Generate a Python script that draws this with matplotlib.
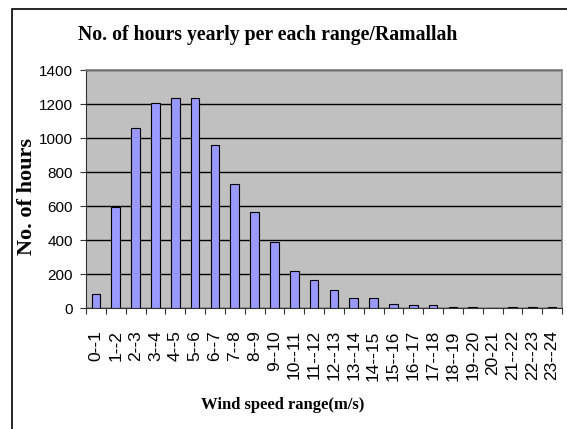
import matplotlib.pyplot as plt
import numpy as np
from matplotlib.patches import Rectangle

ranges = ["0--1", "1--2", "2--3", "3--4", "4--5", "5--6", "6--7", "7--8",
          "8--9", "9--10", "10--11", "11--12", "12--13", "13--14", "14--15",
          "15--16", "16--17", "17--18", "18--19", "19--20", "20-21",
          "21--22", "22--23", "23--24"]
hours = [80, 592, 1059, 1205, 1236, 1236, 961, 727, 564, 387, 219, 162,
         105, 57, 57, 23, 16, 16, 8, 8, 0, 8, 8, 8]
yticks = [0, 200, 400, 600, 800, 1000, 1200, 1400]

W, H = 567, 429
fig = plt.figure(figsize=(W / 100, H / 100), dpi=100)
fig.patch.set_facecolor("white")

# outer chart frame (runs off the right/bottom of the image)
fig.patches.append(Rectangle((12 / W, -0.1), 1.2, 1 - 9 / H + 0.1,
                             transform=fig.transFigure, fill=False,
                             edgecolor="black", linewidth=1.2))

left, right, top, bottom = 86, 562, 70, 308
ax = fig.add_axes([left / W, 1 - bottom / H, (right - left) / W,
                   (bottom - top) / H])
ax.set_facecolor("#c0c0c0")

x = np.arange(len(ranges))
ax.bar(x, hours, width=0.43, color="#9999ff", edgecolor="black",
       linewidth=0.8, zorder=3)

ax.set_xlim(-0.5, len(ranges) - 0.5)
ax.set_ylim(0, 1400)
ax.set_yticks(yticks)
ax.yaxis.grid(True, color="black", linewidth=1.0, zorder=1)
ax.tick_params(axis="y", labelsize=11, length=4.5, color="#333333", pad=5)
for lbl in ax.get_yticklabels():
    lbl.set_family("Liberation Sans")

ax.set_xticks(np.arange(-0.5, len(ranges)), minor=False)
ax.set_xticklabels([])
ax.set_xticks(x, minor=True)
ax.set_xticklabels(ranges, minor=True, rotation=90, fontsize=12.5,
                   family="Liberation Sans")
ax.tick_params(axis="x", which="major", length=4.5, color="#333333")
ax.tick_params(axis="x", which="minor", length=0, pad=16)

for side in ["top", "right"]:
    ax.spines[side].set_color("#808080")
    ax.spines[side].set_linewidth(1.2)
ax.spines["left"].set_color("#333333")
ax.spines["bottom"].set_color("#333333")

fig.text(268 / W, 1 - 35 / H, "No. of hours yearly per each range/Ramallah",
         ha="center", va="center", fontsize=14.2, fontweight="bold",
         family="Liberation Serif")
fig.text(27 / W, 1 - 196 / H, "No. of hours", rotation=90, ha="center",
         va="center", fontsize=16, fontweight="bold", family="Liberation Serif")
fig.text(283 / W, 1 - 405 / H, "Wind speed range(m/s)", ha="center",
         va="center", fontsize=12, fontweight="bold", family="Liberation Serif")

fig.savefig("out.png", dpi=100)
